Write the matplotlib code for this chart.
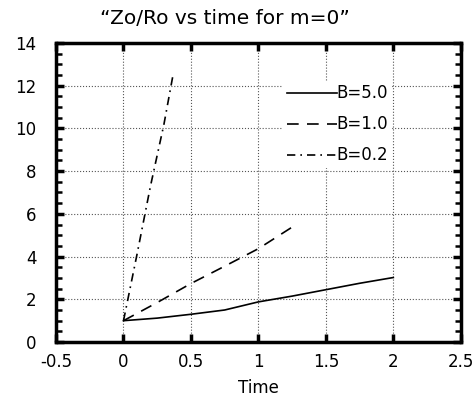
import numpy as np
import matplotlib
matplotlib.use("Agg")
import matplotlib.pyplot as plt
from matplotlib.ticker import MultipleLocator

plt.rcParams['font.family'] = ['DejaVu Sans']

# values
t_b50 = [0.0, 0.25, 0.5, 0.75, 1.0, 1.25, 1.5, 1.75, 2.0]
z_b50 = [1.0, 1.12, 1.3, 1.5, 1.88, 2.15, 2.45, 2.75, 3.02]

t_b10 = [0.0, 0.25, 0.5, 0.75, 1.0, 1.28]
z_b10 = [1.0, 1.85, 2.74, 3.55, 4.37, 5.5]

t_b02 = [0.0, 0.1, 0.2, 0.3, 0.37]
z_b02 = [1.0, 4.1, 7.3, 10.2, 12.6]

fig = plt.figure(figsize=(4.75, 4.01), dpi=100)
ax = fig.add_axes([0.118, 0.147, 0.852, 0.746])

ax.plot(t_b50, z_b50, color='black', lw=1.2, label='B=5.0')
ax.plot(t_b10, z_b10, color='black', lw=1.2, ls=(0, (7, 5)), label='B=1.0')
ax.plot(t_b02, z_b02, color='black', lw=1.2, ls=(0, (5, 3, 1, 3)), label='B=0.2')

ax.set_xlim(-0.5, 2.5)
ax.set_ylim(0, 14)
ax.set_xticks([-0.5, 0, 0.5, 1, 1.5, 2, 2.5])
ax.set_xticklabels(['-0.5', '0', '0.5', '1', '1.5', '2', '2.5'])
ax.set_yticks(range(0, 15, 2))
ax.yaxis.set_minor_locator(MultipleLocator(0.5))

ax.grid(True, which='major', color='#555555', ls=':', lw=0.8)
ax.tick_params(which='major', direction='in', length=6, width=2.5,
               top=True, right=True, labelsize=12)
ax.tick_params(axis='x', which='major', pad=8)
ax.tick_params(axis='y', which='major', pad=14)
ax.tick_params(which='minor', direction='in', length=4, width=1.8,
               left=True, right=True)
for s in ax.spines.values():
    s.set_linewidth(2.5)

fig.text(0.474, 0.955, '\u201cZo/Ro vs time for m=0\u201d', fontsize=14.5,
         ha='center', va='center')
ax.set_xlabel('Time', fontsize=12, labelpad=6)

leg = ax.legend(loc='upper right', bbox_to_anchor=(0.85, 0.9), frameon=True,
                fontsize=12, handlelength=3.0, handletextpad=0.0,
                labelspacing=0.78, borderpad=0.2)
leg.get_frame().set_edgecolor('none')
leg.get_frame().set_facecolor('white')
leg.get_frame().set_alpha(1)

fig.savefig('out.png', dpi=100)
